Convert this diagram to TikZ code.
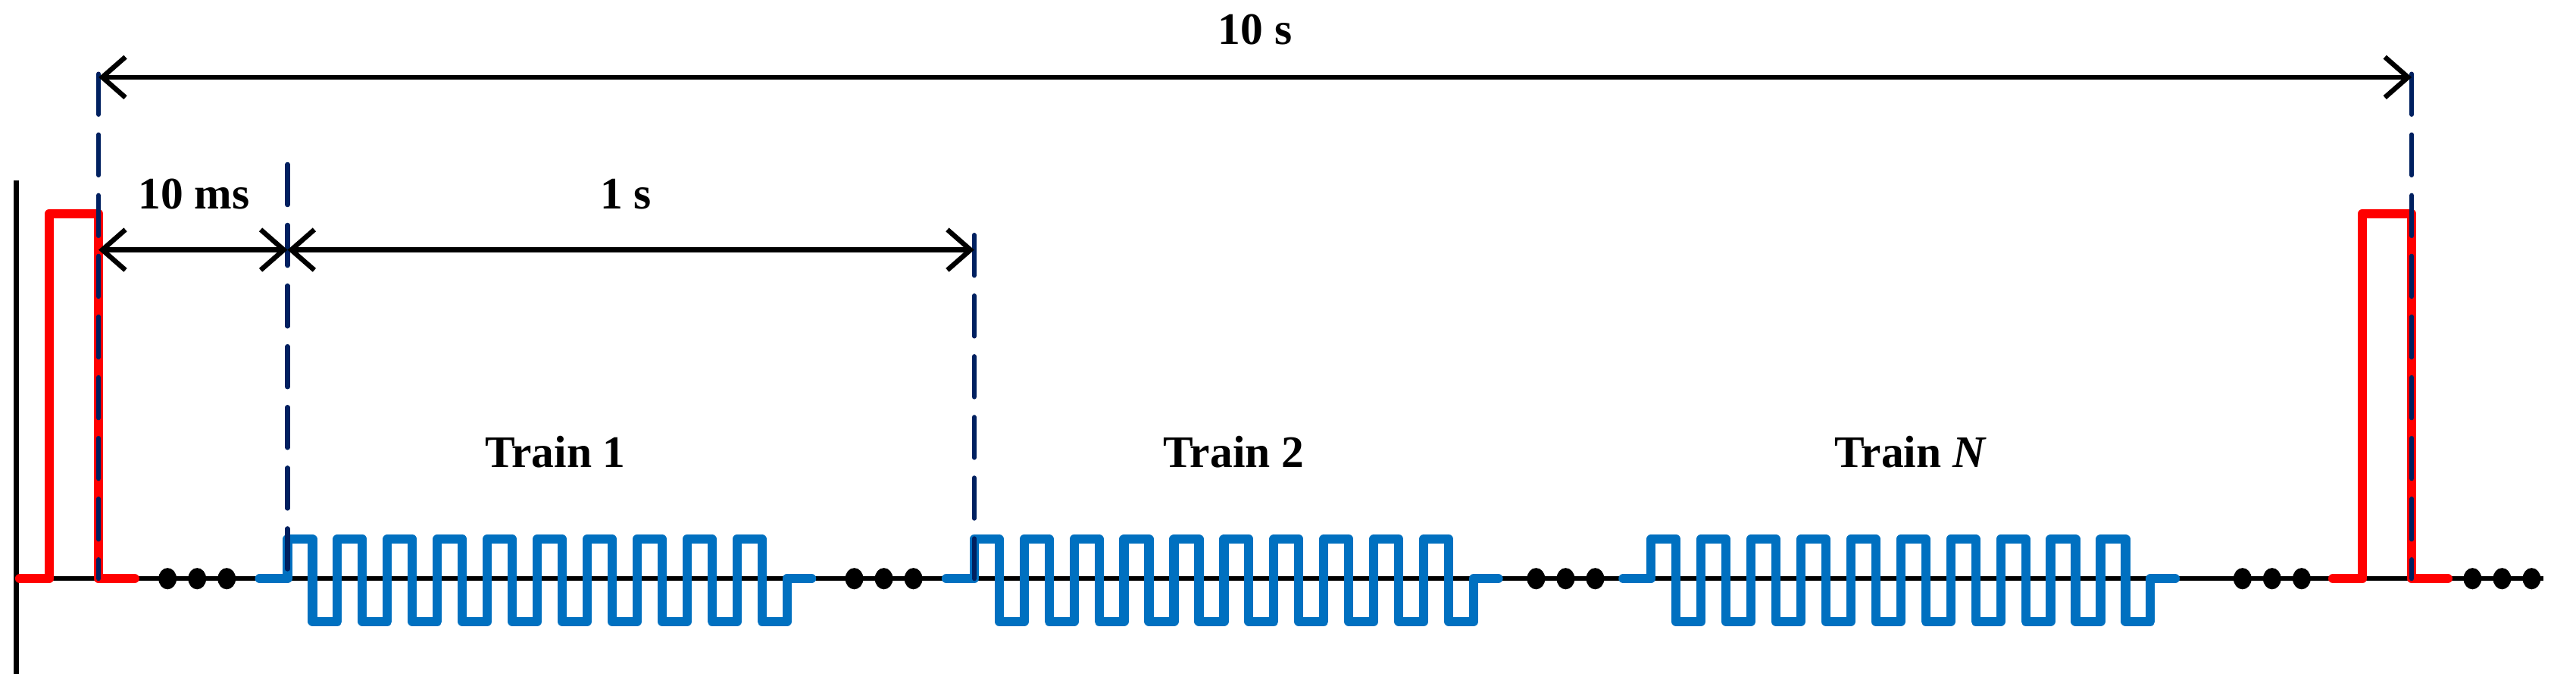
\documentclass[tikz,border=0pt]{standalone}
\usepackage{fontspec}
\setmainfont{Liberation Serif}
\usetikzlibrary{arrows.meta}
\definecolor{pred}{RGB}{255,0,0}
\definecolor{pblue}{RGB}{0,112,192}
\definecolor{pnavy}{RGB}{0,32,96}
\tikzset{
  axis/.style={line width=0.85pt,black},
  redpulse/.style={line width=1.6pt,pred,line join=round,line cap=round},
  bluetrain/.style={line width=1.6pt,pblue,line join=round,line cap=round},
  guide/.style={line width=0.8pt,pnavy,dash pattern=on 7pt off 3.5pt,line cap=round},
  dim/.style={line width=0.85pt,black,{Straight Barb[length=4pt,width=7pt,line width=0.85pt]}-{Straight Barb[length=4pt,width=7pt,line width=0.85pt]}},
  lbl/.style={font=\fontsize{7.8}{9}\selectfont\bfseries,inner sep=0pt},
  dotc/.style={fill=black,draw=none}
}
\begin{document}
\begin{tikzpicture}[x=0.01cm,y=-0.01cm]
\useasboundingbox (0,0) rectangle (1568,425);
% axes
\draw[axis] (10,110) -- (10,410);
\draw[axis] (10,352) -- (1548,352);
% red pulses
\draw[redpulse] (12,352) -- (30,352) -- (30,130) -- (60,130) -- (60,352) -- (82,352);
\draw[redpulse] (1420,352) -- (1438,352) -- (1438,130) -- (1468,130) -- (1468,352) -- (1490,352);
% trains
\foreach \s in {175,593,1005}{
  \draw[bluetrain] (\s-17,352) -- (\s,352) -- (\s,328)
    \foreach \k in {0,...,8}{ -- ++(15.2,0) -- ++(0,50) -- ++(15.2,0) -- ++(0,-50)}
    -- ++(15.2,0) -- ++(0,50) -- ++(15.2,0) -- ++(0,-26) -- ++(15,0);
}
% dots
\foreach \x in {102,120,138,520,538,556,935,953,971,1365,1383,1401,1505,1523,1541}
  \fill[dotc] (\x,352) ellipse (5.5 and 6.5);
% guide lines
\coordinate (g1t) at (60,45);   \coordinate (g1b) at (60,352);
\coordinate (g2t) at (175,100); \coordinate (g2b) at (175,352);
\coordinate (g3t) at (593,143); \coordinate (g3b) at (593,352);
\coordinate (g4t) at (1468,45); \coordinate (g4b) at (1468,352);
\draw[guide] (g1t) -- (g1b);
\draw[guide] (g2t) -- (g2b);
\draw[guide] (g3t) -- (g3b);
\draw[guide] (g4t) -- (g4b);
% dimension arrows
\coordinate (a1) at (60,47);  \coordinate (a2) at (1468,47);
\coordinate (b1) at (60,152); \coordinate (b2) at (175,152); \coordinate (b3) at (593,152);
\draw[dim] (a1) -- (a2);
\draw[dim] (b1) -- (b2);
\draw[dim] (b2) -- (b3);
% labels
\node[lbl] (l10s) at (764,18) {10 s};
\node[lbl] (l10ms) at (118,118) {10 ms};
\node[lbl] (l1s) at (381,118) {1 s};
\node[lbl] (t1) at (338,275) {Train 1};
\node[lbl] (t2) at (751,275) {Train 2};
\node[lbl] (tN) at (1163,275) {Train \textit{N}};
\end{tikzpicture}
\end{document}
